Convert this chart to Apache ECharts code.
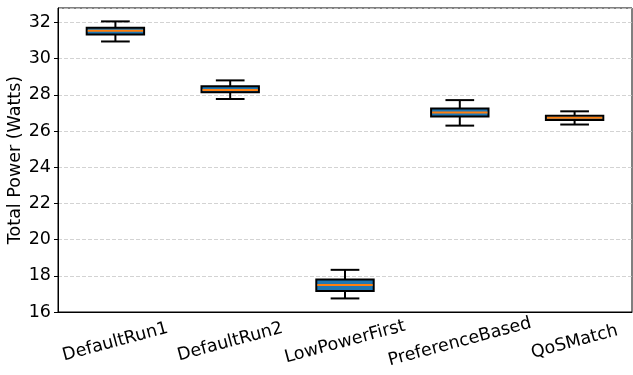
<!DOCTYPE html>
<html>
<head>
<meta charset="utf-8">
<script src="https://cdn.jsdelivr.net/npm/echarts@6/dist/echarts.min.js"></script>
<style>
  html, body { margin: 0; padding: 0; background: #fff; }
  #main { width: 633px; height: 375px; }
</style>
</head>
<body>
<div id="main"></div>
<script>
const categories = ['DefaultRun1', 'DefaultRun2', 'LowPowerFirst', 'PreferenceBased', 'QoSMatch'];
// five-number summary per category
const lowWhisker = [30.95, 27.77, 16.75, 26.30, 26.36];
const q1 = [31.34, 28.14, 17.16, 26.80, 26.61];
const median = [31.54, 28.27, 17.49, 27.02, 26.74];
const q3 = [31.71, 28.47, 17.80, 27.24, 26.85];
const highWhisker = [32.06, 28.80, 18.33, 27.71, 27.09];

const yTicks = { min: 16, max: 32.8, interval: 2 };

const rows = categories.map((c, i) => [i, lowWhisker[i], q1[i], median[i], q3[i], highWhisker[i]]);

const font = 'DejaVu Sans';
const fs = 17.5;

function renderBox(params, api) {
  const i = api.value(0);
  const band = api.size([1, 0])[0];
  const boxW = band * 0.5;
  const capW = boxW * 0.5;
  const x = api.coord([i, 0])[0];
  const yLo = api.coord([i, api.value(1)])[1];
  const yQ1 = api.coord([i, api.value(2)])[1];
  const yMed = api.coord([i, api.value(3)])[1];
  const yQ3 = api.coord([i, api.value(4)])[1];
  const yHi = api.coord([i, api.value(5)])[1];
  const black = { stroke: '#000', lineWidth: 2, fill: null };
  return {
    type: 'group',
    children: [
      { type: 'line', shape: { x1: x, y1: yQ1, x2: x, y2: yLo }, style: black },
      { type: 'line', shape: { x1: x, y1: yQ3, x2: x, y2: yHi }, style: black },
      { type: 'line', shape: { x1: x - capW / 2, y1: yLo, x2: x + capW / 2, y2: yLo }, style: black },
      { type: 'line', shape: { x1: x - capW / 2, y1: yHi, x2: x + capW / 2, y2: yHi }, style: black },
      { type: 'rect', shape: { x: x - boxW / 2, y: yQ3, width: boxW, height: yQ1 - yQ3 },
        style: { fill: '#1f77b4', stroke: '#000', lineWidth: 2 } },
      { type: 'line', shape: { x1: x - boxW / 2 + 1, y1: yMed, x2: x + boxW / 2 - 1, y2: yMed },
        style: { stroke: '#ff7f0e', lineWidth: 2 } }
    ]
  };
}

const chart = echarts.init(document.getElementById('main'), null, { renderer: 'canvas' });
chart.setOption({
  backgroundColor: '#fff',
  animation: false,
  grid: {
    left: 58, right: 1, top: 8, bottom: 63,
    containLabel: false, outerBoundsMode: 'none',
    show: true, borderColor: '#000', borderWidth: 1
  },
  xAxis: {
    type: 'category',
    data: categories,
    axisLine: { lineStyle: { color: '#000', width: 1 } },
    axisTick: { alignWithLabel: true, length: 4, lineStyle: { color: '#000' } },
    axisLabel: {
      rotate: 15, align: 'center', verticalAlign: 'middle', margin: 30,
      color: '#000', fontSize: fs, fontFamily: font
    },
    splitLine: { show: false }
  },
  yAxis: {
    type: 'value',
    min: yTicks.min, max: yTicks.max, interval: yTicks.interval,
    name: 'Total Power (Watts)',
    nameLocation: 'middle', nameGap: 34, nameMoveOverlap: false,
    nameTextStyle: { color: '#000', fontSize: fs, fontFamily: font },
    axisLine: { show: true, lineStyle: { color: '#000', width: 1 } },
    axisTick: { show: true, length: 4, lineStyle: { color: '#000' } },
    axisLabel: { color: '#000', fontSize: fs, fontFamily: font, margin: 7, showMaxLabel: false },
    splitLine: { show: true, lineStyle: { color: '#c8c8c8', type: [4, 2], width: 0.8 } }
  },
  series: [{
    type: 'custom',
    renderItem: renderBox,
    encode: { x: 0, y: [1, 2, 3, 4, 5] },
    data: rows
  }]
});
</script>
</body>
</html>
